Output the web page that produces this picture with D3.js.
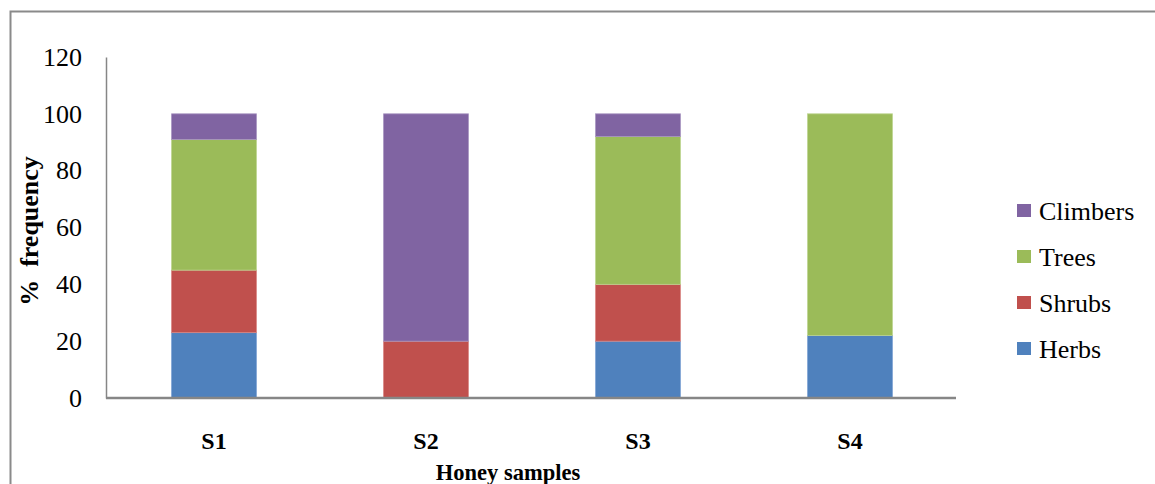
<!DOCTYPE html>
<html>
<head>
<meta charset="utf-8">
<script src="https://cdn.jsdelivr.net/npm/d3@7"></script>
<style>
  html, body { margin: 0; padding: 0; background: #fff; }
  svg { display: block; }
  text { font-family: "Liberation Serif", "Times New Roman", serif; fill: #000; }
</style>
</head>
<body>
<svg id="chart" width="1155" height="484"></svg>
<script>
const categories = ["S1", "S2", "S3", "S4"];
const seriesNames = ["Herbs", "Shrubs", "Trees", "Climbers"];
const herbs    = [23, 0, 20, 22];
const shrubs   = [22, 20, 20, 0];
const trees    = [46, 0, 52, 78];
const climbers = [9, 80, 8, 0];
const yTicks = [0, 20, 40, 60, 80, 100, 120];
const colors = ["#4F81BD", "#C0504D", "#9BBB59", "#8064A2"];
const strokeColors = ["#7FA3D4", "#D98683", "#BCD48E", "#A794C0"];

const rows = categories.map((c, i) => ({
  cat: c, Herbs: herbs[i], Shrubs: shrubs[i], Trees: trees[i], Climbers: climbers[i]
}));

const svg = d3.select("#chart");

// outer frame
svg.append("rect")
  .attr("x", 10.5).attr("y", 11.5).attr("width", 1300).attr("height", 600)
  .attr("fill", "none").attr("stroke", "#8a8a8a").attr("stroke-width", 2);

const x0 = 106, yTop = 57, yBot = 398;

const x = d3.scaleBand().domain(categories).range([108, 956])
  .paddingInner(0.6).paddingOuter(0.3);
const y = d3.scaleLinear().domain([0, 120]).range([yBot, yTop]);

const stacked = d3.stack().keys(seriesNames)(rows);

const g = svg.append("g");
g.selectAll("g.series").data(stacked).join("g")
  .attr("class", "series")
  .each(function(s, si) {
    d3.select(this).selectAll("rect").data(s.filter(d => d[1] - d[0] > 0)).join("rect")
      .attr("x", d => x(d.data.cat))
      .attr("width", x.bandwidth())
      .attr("y", d => y(d[1]))
      .attr("height", d => y(d[0]) - y(d[1]))
      .attr("fill", colors[si])
      .attr("stroke", strokeColors[si])
      .attr("stroke-width", 0.8);
  });

// y axis
const yAxis = d3.axisLeft(y).tickValues(yTicks).tickSize(0).tickPadding(24);
const ya = svg.append("g").attr("transform", `translate(${x0},0)`).call(yAxis);
ya.select(".domain").attr("stroke", "#868686").attr("stroke-width", 1.5);
ya.selectAll("text").style("font-family", "Liberation Serif").attr("font-size", 26).attr("fill", "#000");

// x axis
const xAxis = d3.axisBottom(x).tickSize(0).tickPadding(34);
const xa = svg.append("g").attr("transform", `translate(0,${yBot})`).call(xAxis);
xa.select(".domain").attr("d", `M${x0},0H956`).attr("stroke", "#868686").attr("stroke-width", 2.5);
xa.selectAll("text").style("font-family", "Liberation Serif").attr("font-size", 24)
  .attr("font-weight", "bold").attr("fill", "#000");

// axis titles
svg.append("text")
  .attr("x", 508).attr("y", 480)
  .attr("text-anchor", "middle")
  .attr("font-size", 22.5).attr("font-weight", "bold")
  .text("Honey samples");

svg.append("text")
  .attr("transform", "translate(38,231) rotate(-90)")
  .attr("text-anchor", "middle")
  .attr("font-size", 26).attr("font-weight", "bold")
  .attr("xml:space", "preserve")
  .style("white-space", "pre")
  .text("%  frequency");

// legend
const legendItems = ["Climbers", "Trees", "Shrubs", "Herbs"];
const legendY = d3.scalePoint().domain(legendItems).range([211, 349]);
const lg = svg.append("g");
legendItems.forEach(name => {
  const idx = seriesNames.indexOf(name);
  lg.append("rect")
    .attr("x", 1017).attr("y", legendY(name) - 7).attr("width", 14).attr("height", 13)
    .attr("fill", colors[idx]);
  lg.append("text")
    .attr("x", 1039).attr("y", legendY(name))
    .attr("dy", "0.35em")
    .attr("font-size", 26)
    .text(name);
});
</script>
</body>
</html>
